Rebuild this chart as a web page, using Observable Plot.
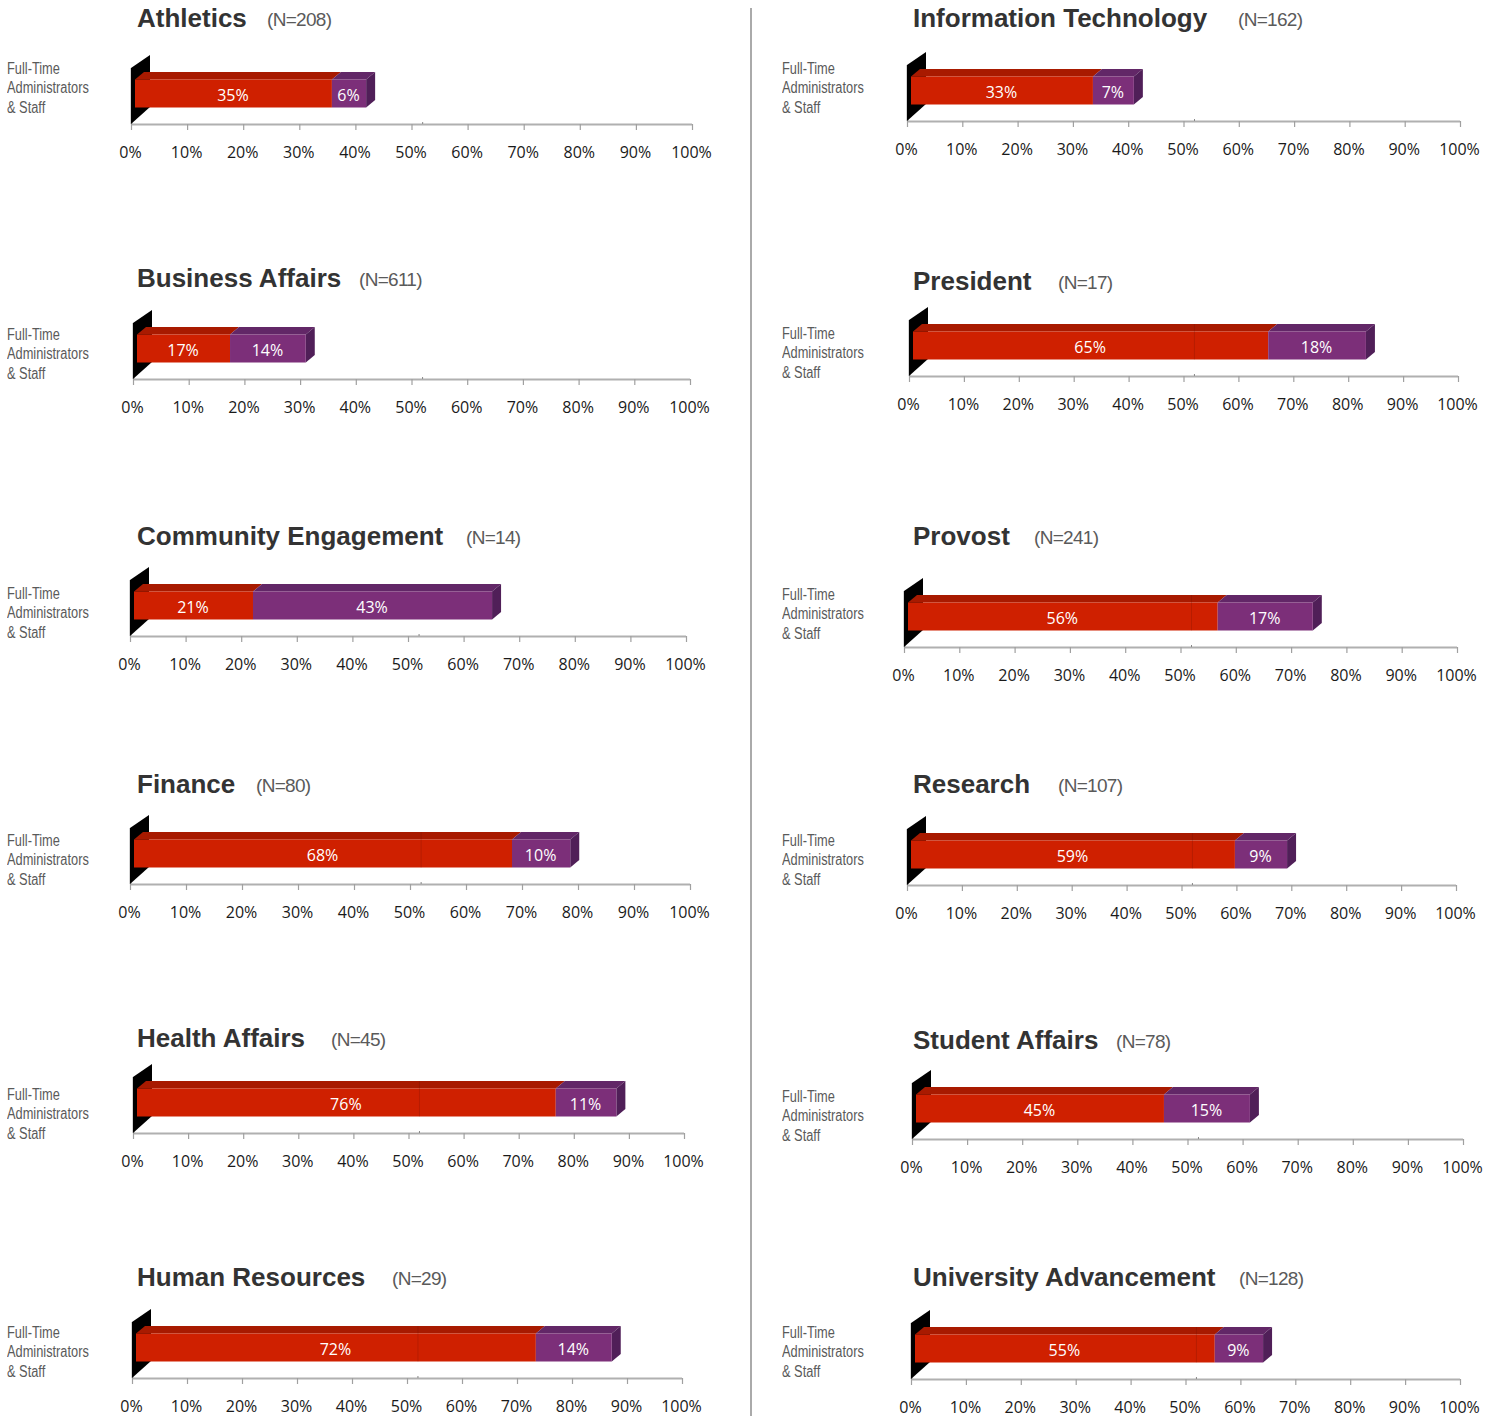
<!DOCTYPE html>
<html><head><meta charset="utf-8">
<script src="https://cdn.jsdelivr.net/npm/d3@7"></script>
<script src="https://cdn.jsdelivr.net/npm/@observablehq/plot@0.6"></script>
<style>
html,body{margin:0;padding:0;background:#fff;width:1499px;height:1416px;overflow:hidden}
#page{position:relative;width:1499px;height:1416px}
#page svg{position:absolute;overflow:visible;background:transparent}
.t{position:absolute;white-space:nowrap;line-height:1}
.title{font:bold 26px "Liberation Sans",sans-serif;color:#333}
.n{font:19px "Liberation Sans",sans-serif;letter-spacing:-.7px;color:#5a5a5a}
.lab{font:16px "Liberation Sans",sans-serif;color:#5a5a5a;line-height:19.3px;transform:scaleX(.8);transform-origin:0 0}
#divider{position:absolute;left:750px;top:8px;width:2px;height:1408px;background:#aaa}
</style></head><body><div id="page"><div id="divider"></div></div>
<script>
// data
const departments = ["Athletics","Business Affairs","Community Engagement","Finance","Health Affairs","Human Resources","Information Technology","President","Provost","Research","Student Affairs","University Advancement"];
const respondents = [208,611,14,80,45,29,162,17,241,107,78,128];
// printed labels
const redLabel    = [35,17,21,68,76,72,33,65,56,59,45,55];
const purpleLabel = [6,14,43,10,11,14,7,18,17,9,15,9];
// segment lengths
const redShare    = [35.1,16.7,21.4,67.5,76,72.7,32.9,64.7,56,59,45,54.6];
const purpleShare = [6.1,13.6,43,10.4,11,13.8,7.4,17.8,17.2,9.5,15.6,8.8];
const rowLabel = "Full-Time\nAdministrators\n& Staff";
const tickValues = [0,10,20,30,40,50,60,70,80,90,100];
const seamAt = [51.9];

// layout of each panel on the page
const column  = [0,0,0,0,0,0,775,775,775,775,775,775];
const axisX0  = [131,133,130,130,133,132,907,909,904,907,912,911];
const axisX1  = [692,690,686,690,684,682,1460,1458,1457,1456,1463,1460];
const axisPos = [124,379,636,884,1133,1378,121,376,647,885,1139,1379];
const titleMid= [18,278,536,784,1038,1277,18,281,536,784,1040,1277];
const nLeft   = [267,359,466,256,331,392,1238,1058,1034,1058,1116,1239];
const labTop  = [69,335,594,841,1095,1333,69,334,595,841,1097,1333];

const page = document.getElementById("page");
function addText(cls, txt, left, top){
  const d = document.createElement("div");
  d.className = "t " + cls; d.textContent = txt;
  d.style.left = left + "px"; d.style.top = top + "px";
  page.appendChild(d); return d;
}

const H = 80, BOTTOM = 46;
departments.forEach((name, i) => {
  const col = column[i], x0 = axisX0[i], x1 = axisX1[i];
  const k = 100 / (x1 - x0);          // percent units per pixel
  const off = 4 * k, dep = 9 * k;     // bar inset and 3-D depth along x
  const yb = 16.5, yt = 44.5, yd = 7.5; // bar bottom, top and depth along y
  const a = off, b = off + redShare[i], c = b + purpleShare[i];

  const top = (l, r) => [{y: yt, x1: l, x2: r}, {y: yt + yd, x1: l + dep, x2: r + dep}];
  const segs = [
    {x1: a, x2: b, fill: "#cf2000", label: redLabel[i] + "%"},
    {x1: b, x2: c, fill: "#7c2f79", label: purpleLabel[i] + "%"}
  ];
  const wall = [{x: 0, y1: 0, y2: 56}, {x: 19 * k, y1: 17, y2: 69}];
  const side = [{x: c, y1: yb, y2: yt}, {x: c + dep, y1: yb + yd, y2: yt + yd}];

  const svg = Plot.plot({
    width: x1 + 34 - col, height: H + BOTTOM,
    marginLeft: x0 - col, marginRight: 34, marginTop: 0, marginBottom: BOTTOM,
    x: {domain: [0, 100], label: null},
    y: {domain: [0, H], axis: null},
    style: {background: "transparent", fontFamily: "'Open Sans',sans-serif", fontSize: "16px"},
    marks: [
      Plot.ruleY([0], {stroke: "#b0b0b0", strokeWidth: 2}),
      Plot.axisX({ticks: tickValues, tickFormat: () => "", tickSize: 6, stroke: "#a0a0a0", label: null, strokeWidth: 1.2}),
      Plot.axisX({ticks: tickValues, tickFormat: d => d + "%", tickSize: 0, tickPadding: 22, dx: -1,
                  fill: "#1a1a1a", label: null, fontSize: 16}),
      Plot.ruleX(seamAt, {y1: 0, y2: 2, stroke: "#888", strokeWidth: 1}),
      Plot.ruleX([0], {y1: 0, y2: 56, stroke: "#aaa", strokeWidth: 2}),
      Plot.areaY(wall, {x: "x", y1: "y1", y2: "y2", fill: "#000"}),
      Plot.areaX(top(a, b), {y: "y", x1: "x1", x2: "x2", fill: "#a81a00"}),
      Plot.areaX(top(b, c), {y: "y", x1: "x1", x2: "x2", fill: "#622767"}),
      Plot.areaY(side, {x: "x", y1: "y1", y2: "y2", fill: "#501f58"}),
      Plot.rect(segs, {x1: "x1", x2: "x2", y1: yb, y2: yt, fill: "fill"}),
      Plot.ruleX(seamAt.filter(s => s < b), {y1: yb, y2: yt + yd, stroke: "#5a0e00", strokeWidth: 1, strokeOpacity: 0.2}),
      Plot.text(segs, {x: d => (d.x1 + d.x2) / 2, y: (yb + yt) / 2, dy: 2, dx: -1, text: "label",
                       fill: "#fff", fontSize: 16})
    ]
  });
  svg.style.left = col + "px";
  svg.style.top = (axisPos[i] - H) + "px";
  page.appendChild(svg);

  const leftTitle = col === 0 ? 137 : 913;
  addText("title", name, leftTitle, titleMid[i] - 15);
  addText("n", "(N=" + respondents[i] + ")", nLeft[i], titleMid[i] - 9);
  const lab = addText("lab", "", col === 0 ? 7 : 782, labTop[i] - 10);
  lab.style.whiteSpace = "pre"; lab.textContent = rowLabel;
});
</script></body></html>
